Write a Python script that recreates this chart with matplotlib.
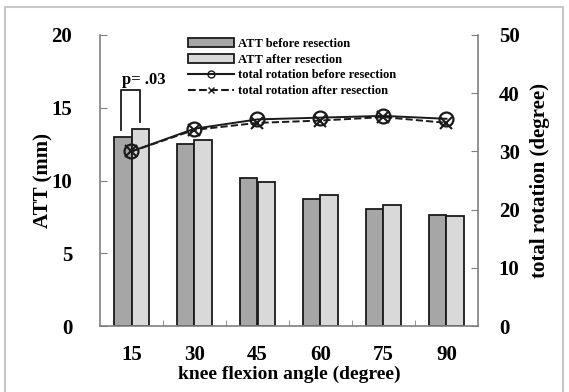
import matplotlib
matplotlib.use("Agg")
import matplotlib.pyplot as plt
import numpy as np
from matplotlib.patches import Patch
from matplotlib.lines import Line2D

angles = ["15", "30", "45", "60", "75", "90"]
att_before = [13.0, 12.5, 10.2, 8.75, 8.05, 7.6]
att_after = [13.55, 12.8, 9.93, 9.0, 8.3, 7.53]
rot_before = [30.0, 33.9, 35.5, 35.8, 36.1, 35.6]
rot_after = [30.0, 33.7, 34.9, 35.3, 35.9, 34.9]

plt.rcParams['font.family'] = ['Liberation Serif', 'DejaVu Serif']
plt.rcParams['font.weight'] = 'bold'

W, H = 569, 392
fig = plt.figure(figsize=(W / 100, H / 100), dpi=100)
ax = fig.add_axes([100 / W, 1 - 326 / H, 378 / W, 291 / H])

x = np.arange(len(angles)) + 0.5
bw = 0.28
gray = '#808080'
ax.bar(x - bw / 2, att_before, bw, color='#a6a6a6', edgecolor='#1a1a1a', linewidth=1.3, zorder=2)
ax.bar(x + bw / 2, att_after, bw, color='#d9d9d9', edgecolor='#1a1a1a', linewidth=1.3, zorder=2)
ax.set_xlim(0, 6)
ax.set_ylim(0, 20)
ax.set_yticks([0, 5, 10, 15, 20])
ax.set_xticks(x)
ax.set_xticklabels(angles)
ax.set_xticks([1, 2, 3, 4, 5], minor=True)
ax.tick_params(axis='x', which='major', length=0, pad=14, labelsize=15)
ax.tick_params(axis='x', which='minor', direction='in', length=4, color=gray)
ax.tick_params(axis='y', direction='in', length=5, color=gray, pad=20, labelsize=15)
for s in ['top', 'right']:
    ax.spines[s].set_visible(False)
for s in ['left', 'bottom']:
    ax.spines[s].set_color(gray)
    ax.spines[s].set_linewidth(1.2)
ax.set_ylabel("ATT (mm)", fontsize=15, fontweight='bold')
ax.yaxis.set_label_coords(-0.124, 0.5)
ax.set_xlabel("knee flexion angle (degree)", fontsize=14, fontweight='bold')
ax.xaxis.set_label_coords(0.5, -0.138)

ax2 = ax.twinx()
ax2.set_ylim(0, 50)
ax2.set_yticks([0, 10, 20, 30, 40, 50])
ax2.tick_params(axis='y', direction='in', length=5, color=gray, pad=15, labelsize=15)
for s in ['top', 'left', 'bottom']:
    ax2.spines[s].set_visible(False)
ax2.spines['right'].set_color(gray)
ax2.spines['right'].set_linewidth(1.2)
ax2.plot(x, rot_after, color='#1a1a1a', linestyle='--', linewidth=1.4, marker='x',
         markersize=8, markeredgewidth=1.5, zorder=3)
ax2.plot(x, rot_before, color='#1a1a1a', linestyle='-', linewidth=1.4, marker='o',
         markersize=10, markerfacecolor='none', markeredgewidth=1.6, zorder=4)
ax2.set_ylabel("total rotation (degree)", fontsize=15, fontweight='bold')
ax2.yaxis.set_label_coords(1.138, 0.5)

# significance bracket
ax.plot([0.334, 0.334, 0.636, 0.636], [13.5, 16.2, 16.2, 14.0], color='#1a1a1a', linewidth=1.3, zorder=5)
ax.text(0.70, 16.9, "p= .03", ha='center', va='center', fontsize=12, fontweight='bold')

handles = [
    Patch(facecolor='#a6a6a6', edgecolor='#1a1a1a', linewidth=1.3),
    Patch(facecolor='#d9d9d9', edgecolor='#1a1a1a', linewidth=1.3),
    Line2D([], [], color='#1a1a1a', linestyle='-', marker='o', markerfacecolor='none', markersize=5),
    Line2D([], [], color='#1a1a1a', linestyle='--', marker='x', markersize=5),
]
labels = ["ATT before resection", "ATT after resection",
          "total rotation before resection", "total rotation after resection"]
leg = ax2.legend(handles, labels, loc='upper left', bbox_to_anchor=((188 - 100) / 378, 1 - (38 - 35) / 291),
                 frameon=False, fontsize=9, handlelength=3.7, handletextpad=0.3,
                 labelspacing=0.3, borderaxespad=0, borderpad=0)
for t in leg.get_texts():
    t.set_fontweight('bold')

# outer frame
fig.add_artist(Line2D([5 / W, 5 / W, 563 / W, 563 / W], [0, 1 - 7 / H, 1 - 7 / H, 0],
                      transform=fig.transFigure, color='#c8c8c8', linewidth=1.5))

fig.savefig("out.png", dpi=100)
